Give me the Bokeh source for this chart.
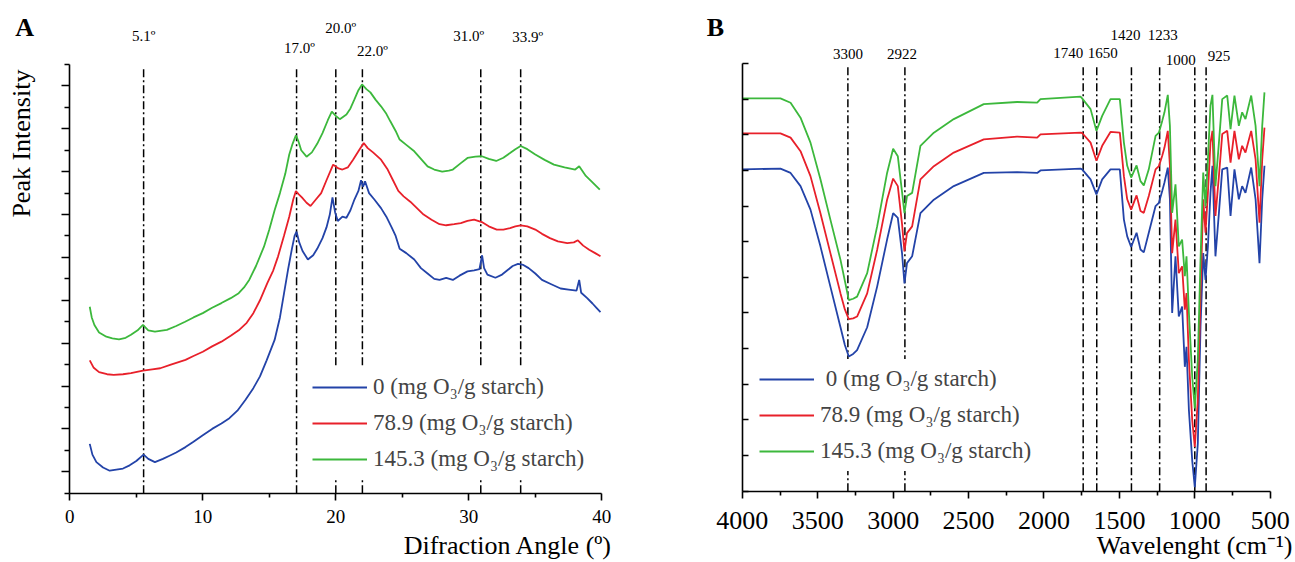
from bokeh.plotting import figure
from bokeh.models import Range1d, FixedTicker, Legend, LegendItem, Label
from bokeh.layouts import row
from bokeh.embed import file_html
from bokeh.resources import INLINE

# ---------------- data : panel A (XRD) ----------------
xrd_labels = ["0 (mg O\u2083/g starch)", "78.9 (mg O\u2083/g starch)", "145.3 (mg O\u2083/g starch)"]

xrd_blue_x = [1.5, 1.7, 2.0, 2.5, 3.0, 3.5, 4.0, 4.5, 5.0, 5.55, 5.9, 6.4, 7.0, 7.5, 8.0, 8.7, 9.3, 10.0,
              10.7, 11.4, 12.0, 12.6, 13.2, 13.8, 14.3, 14.8, 15.4, 15.8, 16.1, 16.4, 16.7, 16.9, 17.05,
              17.25, 17.5, 17.9, 18.3, 18.6, 19.0, 19.3, 19.55, 19.75, 19.95, 20.15, 20.5, 20.8, 21.1,
              21.4, 21.7, 21.9, 22.05, 22.2, 22.5, 22.9, 23.4, 23.8, 24.2, 24.5, 24.8, 25.3, 25.9, 26.4,
              26.9, 27.4, 27.8, 28.3, 28.8, 29.3, 29.9, 30.4, 30.8, 31.0, 31.15, 31.4, 32.0, 32.5, 32.9,
              33.3, 33.7, 34.1, 34.5, 35.0, 35.5, 36.2, 36.9, 37.5, 38.1, 38.3, 38.45, 38.9, 39.3, 39.6, 39.9]
xrd_blue_y = [2.3, 1.8, 1.45, 1.2, 1.05, 1.1, 1.15, 1.3, 1.5, 1.8, 1.6, 1.45, 1.6, 1.75, 1.9, 2.15, 2.4, 2.7,
              3.0, 3.25, 3.5, 3.85, 4.35, 4.9, 5.45, 6.2, 7.15, 8.2, 9.3, 10.4, 11.4, 12.0, 12.2,
              11.7, 11.3, 10.9, 11.1, 11.4, 11.9, 12.4, 13.0, 13.8, 13.1, 12.7, 12.9, 12.85, 13.2,
              13.7, 14.1, 14.6, 14.3, 14.55, 14.0, 13.7, 13.3, 12.9, 12.4, 12.0, 11.4, 11.2, 10.9, 10.5,
              10.25, 10.0, 9.95, 10.05, 9.95, 10.15, 10.35, 10.4, 10.45, 11.1, 10.5, 10.2, 10.05, 10.2, 10.4,
              10.6, 10.7, 10.65, 10.5, 10.25, 9.95, 9.75, 9.55, 9.5, 9.45, 9.95, 9.35, 9.1, 8.85, 8.65, 8.45]

xrd_red_x = [1.5, 1.8, 2.2, 2.8, 3.3, 4.0, 4.6, 5.5, 6.2, 6.8, 7.6, 8.7, 9.3, 10.0, 10.7, 11.4, 12.1, 12.7,
             13.3, 13.8, 14.3, 14.85, 15.3, 15.66, 16.1, 16.5, 16.8, 17.0, 17.2, 17.45, 17.8, 18.1, 18.5,
             18.9, 19.3, 19.8, 20.2, 20.5, 20.9, 21.3, 21.7, 22.1, 22.4, 22.8, 23.4, 23.9, 24.3, 24.7,
             25.1, 25.6, 26.1, 26.6, 27.2, 27.8, 28.3, 28.9, 29.4, 29.9, 30.4, 30.98, 31.5, 32.1, 32.6,
             33.1, 33.5, 33.9, 34.4, 35.0, 35.5, 36.1, 36.7, 37.4, 37.9, 38.2, 38.6, 39.05, 39.5, 39.9]
xrd_red_y = [6.2, 5.85, 5.65, 5.55, 5.52, 5.55, 5.6, 5.72, 5.78, 5.83, 6.0, 6.22, 6.4, 6.6, 6.85, 7.07, 7.35, 7.6,
             7.95, 8.4, 9.0, 9.8, 10.4, 11.05, 12.0, 12.9, 13.7, 14.1, 13.95, 13.8, 13.55, 13.4, 13.7,
             14.0, 14.6, 15.33, 15.15, 15.1, 15.2, 15.56, 15.95, 16.34, 16.1, 15.9, 15.56, 15.1, 14.6, 14.1,
             13.85, 13.6, 13.3, 13.0, 12.76, 12.55, 12.5, 12.55, 12.6, 12.7, 12.76, 12.65, 12.45, 12.3, 12.3,
             12.37, 12.45, 12.5, 12.45, 12.3, 12.1, 11.9, 11.75, 11.67, 11.7, 11.8, 11.55, 11.36, 11.2, 11.05]

xrd_green_x = [1.5, 1.65, 1.85, 2.2, 2.75, 3.2, 3.7, 4.2, 4.6, 5.1, 5.5, 5.9, 6.4, 7.3, 8.0, 8.67, 9.3, 10.0,
               10.7, 11.4, 12.1, 12.7, 13.1, 13.5, 14.0, 14.6, 15.0, 15.4, 15.8, 16.2, 16.5, 16.75, 17.0,
               17.2, 17.4, 17.8, 18.2, 18.6, 19.0, 19.4, 19.7, 20.0, 20.3, 20.8, 21.1, 21.4, 21.7, 21.97,
               22.3, 22.6, 23.0, 23.4, 23.8, 24.1, 24.5, 24.8, 25.3, 25.9, 26.4, 26.9, 27.4, 28.0, 28.5,
               28.8, 29.4, 29.9, 30.5, 30.98, 31.5, 32.06, 32.6, 33.1, 33.5, 33.9, 34.4, 35.0, 35.7, 36.4,
               37.2, 38.0, 38.3, 38.8, 39.3, 39.85]
xrd_green_y = [8.7, 8.2, 7.85, 7.5, 7.3, 7.22, 7.18, 7.25, 7.39, 7.6, 7.85, 7.6, 7.54, 7.62, 7.8, 8.0, 8.2, 8.4,
               8.65, 8.87, 9.1, 9.33, 9.6, 9.96, 10.6, 11.5, 12.3, 13.2, 14.0, 14.9, 15.8, 16.3, 16.7,
               16.4, 16.0, 15.7, 15.9, 16.3, 16.8, 17.4, 17.8, 17.6, 17.45, 17.67, 17.95, 18.37, 18.8, 19.07,
               18.85, 18.7, 18.35, 18.05, 17.7, 17.35, 16.9, 16.5, 16.25, 15.95, 15.6, 15.25, 15.1, 15.0, 15.05,
               15.1, 15.4, 15.64, 15.7, 15.72, 15.6, 15.5, 15.65, 15.87, 16.05, 16.2, 16.05, 15.8, 15.55, 15.33,
               15.2, 15.1, 15.25, 14.8, 14.5, 14.16]

xrd_peak_pos = [5.55, 17.05, 20.0, 22.0, 30.9, 33.9]
xrd_peak_text = ["5.1\u00ba", "17.0\u00ba", "20.0\u00ba", "22.0\u00ba", "31.0\u00ba", "33.9\u00ba"]
xrd_x_ticks = [0, 10, 20, 30, 40]

# ---------------- data : panel B (FTIR) ----------------
ftir_labels = ["\u00a00 (mg O\u2083/g starch)", "78.9 (mg O\u2083/g starch)", "145.3 (mg O\u2083/g starch)"]

ftir_x_hi = [4000, 3747, 3680, 3614, 3548, 3482, 3416, 3349, 3320, 3294, 3265, 3239, 3172, 3106, 3040,
             3000, 2969, 2941, 2925, 2908, 2874, 2819, 2730, 2598, 2399, 2178, 2045, 2023, 1758]
ftir_x_lo = [1747, 1691, 1652, 1614, 1559, 1497, 1470, 1448, 1422, 1386, 1360, 1338, 1305, 1260, 1238,
             1216, 1201, 1179, 1165, 1150, 1128, 1106, 1084, 1066, 1055, 1039, 1017, 1000, 980, 962,
             944, 929, 913, 896, 883, 863, 840, 818, 785, 763, 737, 708, 686, 664, 626, 597, 571, 553, 538]

ftir_blue_hi = [9.03, 9.05, 8.93, 8.56, 7.9, 6.87, 5.74, 4.6, 4.1, 3.78, 3.85, 3.96, 4.6, 5.74, 7.06,
                7.8, 7.67, 6.68, 5.83, 6.4, 6.59, 7.8, 8.18, 8.56, 8.93, 8.95, 8.93, 9.0, 9.05]
ftir_blue_lo = [9.03, 8.75, 8.33, 8.75, 9.03, 9.03, 7.62, 7.15, 6.85, 7.25, 6.78, 6.7, 7.25, 8.0, 8.09,
                8.42, 8.66, 9.08, 8.19, 5.0, 6.59, 4.9, 5.18, 3.49, 4.05, 2.27, 0.86, 0.11, 1.33, 4.62,
                6.68, 5.93, 6.87, 8.37, 9.13, 6.59, 7.81, 9.03, 9.08, 7.72, 9.03, 8.19, 8.56, 8.37, 9.08,
                8.19, 6.4, 8.19, 9.13]

ftir_red_hi = [10.04, 10.04, 9.92, 9.54, 8.84, 7.8, 6.68, 5.55, 5.1, 4.83, 4.85, 4.9, 5.55, 6.77, 8.18,
               8.77, 8.56, 7.5, 6.73, 7.24, 7.43, 8.75, 9.12, 9.5, 9.87, 9.95, 9.92, 10.01, 10.06]
ftir_red_lo = [10.05, 9.78, 9.27, 9.69, 10.08, 10.06, 8.84, 8.19, 7.9, 8.3, 7.86, 7.81, 8.28, 9.03, 9.12,
               9.41, 9.64, 10.11, 9.13, 6.68, 7.62, 6.12, 6.31, 5.09, 5.56, 3.68, 1.99, 1.24, 2.55, 5.56,
               8.19, 7.25, 8.37, 9.78, 10.11, 7.72, 8.84, 10.02, 10.11, 9.22, 10.11, 9.31, 9.69, 9.5, 10.11,
               9.31, 7.53, 9.31, 10.2]

ftir_green_hi = [11.02, 11.02, 10.9, 10.48, 9.78, 8.75, 7.62, 6.49, 5.9, 5.36, 5.4, 5.46, 6.12, 7.43, 8.93,
                 9.61, 9.4, 8.4, 7.8, 8.28, 8.37, 9.69, 10.06, 10.44, 10.86, 10.92, 10.9, 11.0, 11.07]
ftir_green_lo = [11.02, 10.72, 10.11, 10.53, 11.0, 11.0, 9.78, 9.13, 8.8, 9.14, 8.7, 8.58, 9.03, 9.97, 10.06,
                 10.39, 10.63, 11.12, 10.25, 7.81, 8.61, 6.87, 7.06, 6.03, 6.59, 5.0, 3.21, 2.32, 3.68, 6.5,
                 8.94, 8.0, 9.31, 10.82, 11.12, 8.56, 9.78, 11.0, 11.1, 10.16, 11.1, 10.25, 10.63, 10.44, 11.1,
                 10.25, 8.56, 10.25, 11.19]

ftir_peak_pos = [3300, 2922, 1740, 1650, 1420, 1233, 1000, 925]
ftir_peak_text = ["3300", "2922", "1740", "1650", "1420", "1233", "1000", "925"]
ftir_x_ticks = [4000, 3500, 3000, 2500, 2000, 1500, 1000, 500]

# ---------------- styles ----------------
SERIF = "Liberation Serif"
BLUE, RED, GREEN = "#2343a8", "#e8202a", "#3cb83c"
COLORS = [BLUE, RED, GREEN]
DASH = "8 3 2 3"


def style_common(p):
    p.grid.visible = False
    p.outline_line_color = None
    p.background_fill_color = "white"
    p.border_fill_color = "white"
    for ax in p.axis:
        ax.axis_line_width = 1.6
        ax.axis_line_color = "black"
        ax.major_tick_line_width = 1.6
        ax.minor_tick_line_width = 1.6
        ax.major_tick_line_color = "black"
        ax.minor_tick_line_color = "black"
        ax.major_label_text_font = SERIF
        ax.major_label_text_color = "black"


def make_legend(p, renderers, labels, loc, font_size):
    items = [LegendItem(label=lab, renderers=[r]) for lab, r in zip(labels, renderers)]
    lg = Legend(items=items, location=loc, glyph_width=55, glyph_height=30, label_height=30,
                spacing=6, padding=5, margin=0, label_standoff=6,
                label_text_font=SERIF, label_text_font_size=font_size,
                border_line_alpha=0, background_fill_color="white", background_fill_alpha=1.0)
    p.add_layout(lg, "center")


def data_label(p, x, y, text, size, align="center", angle=0.0, bold=False, dx=0):
    p.add_layout(Label(x=x, y=y, x_offset=dx, text=text, angle=angle,
                       text_align=align, text_baseline="middle", text_font=SERIF,
                       text_font_size=size, text_font_style="bold" if bold else "normal",
                       text_color="black"))


# ---------------- panel A (frame fills the canvas, axes pinned at 0) ----------------
pA = figure(width=648, height=562, x_range=Range1d(-5.2105, 43.511), y_range=Range1d(-3.233, 22.986),
            output_backend="svg", toolbar_location=None,
            min_border_left=0, min_border_right=0, min_border_top=0, min_border_bottom=0)
style_common(pA)
pA.xaxis.fixed_location = 0
pA.xaxis.bounds = (0, 40)
pA.xaxis.ticker = FixedTicker(ticks=xrd_x_ticks, minor_ticks=[5, 15, 25, 35])
pA.xaxis.major_tick_out = 7
pA.xaxis.major_tick_in = 0
pA.xaxis.minor_tick_out = 4
pA.xaxis.minor_tick_in = 0
pA.xaxis.major_label_text_font_size = "19px"
pA.xaxis.major_label_standoff = 10
a_yticks = list(range(1, 20, 2))
pA.yaxis.fixed_location = 0
pA.yaxis.bounds = (0, 20)
pA.yaxis.ticker = FixedTicker(ticks=a_yticks, minor_ticks=list(range(0, 21, 2)))
pA.yaxis.major_tick_out = 8
pA.yaxis.major_tick_in = 0
pA.yaxis.minor_tick_out = 5
pA.yaxis.minor_tick_in = 0
pA.yaxis.major_label_overrides = {t: "" for t in a_yticks}

pA.segment(x0=xrd_peak_pos, y0=[0] * len(xrd_peak_pos), x1=xrd_peak_pos,
           y1=[19.8] * len(xrd_peak_pos), line_color="black", line_width=1.5, line_dash=DASH)

rA = []
for xs, ys, c in zip([xrd_blue_x, xrd_red_x, xrd_green_x], [xrd_blue_y, xrd_red_y, xrd_green_y], COLORS):
    rA.append(pA.line(xs, ys, line_color=c, line_width=1.8))
make_legend(pA, rA, xrd_labels, (307, 83), "23px")

xrd_label_dx = [0, 3, 5, 10, -12, 7]
xrd_label_y = [21.31, 20.75, 21.72, 20.65, 21.31, 21.26]
for pos, txt, dx, yy in zip(xrd_peak_pos, xrd_peak_text, xrd_label_dx, xrd_label_y):
    data_label(pA, pos, yy, txt, "15px", dx=dx)

data_label(pA, -3.63, 16.31, "Peak Intensity", "26px", angle=1.5708)
data_label(pA, 40.8, -2.44, "Difraction Angle (\u00ba)", "26px", align="right")
data_label(pA, -3.40, 21.73, "A", "26px", bold=True)

# ---------------- panel B ----------------
pB = figure(width=647, height=562, x_range=Range1d(4621.9, 332.3), y_range=Range1d(-2.0005, 13.7676),
            output_backend="svg", toolbar_location=None,
            min_border_left=0, min_border_right=0, min_border_top=0, min_border_bottom=0)
style_common(pB)
pB.xaxis.fixed_location = 0
pB.xaxis.bounds = (500, 4000)
pB.xaxis.ticker = FixedTicker(ticks=ftir_x_ticks, minor_ticks=[3750, 3250, 2750, 2250, 1750, 1250, 750])
pB.xaxis.major_tick_out = 7
pB.xaxis.major_tick_in = 0
pB.xaxis.minor_tick_out = 4
pB.xaxis.minor_tick_in = 0
pB.xaxis.major_label_text_font_size = "26px"
pB.xaxis.major_label_standoff = 14
b_yticks = list(range(0, 13))
pB.yaxis.fixed_location = 4000
pB.yaxis.bounds = (0, 12)
pB.yaxis.ticker = FixedTicker(ticks=b_yticks, minor_ticks=[])
pB.yaxis.major_tick_out = 0
pB.yaxis.major_tick_in = 6
pB.yaxis.minor_tick_out = 0
pB.yaxis.minor_tick_in = 0
pB.yaxis.major_label_overrides = {t: "" for t in b_yticks}

pB.segment(x0=ftir_peak_pos, y0=[0] * len(ftir_peak_pos), x1=ftir_peak_pos,
           y1=[11.9] * len(ftir_peak_pos), line_color="black", line_width=1.5, line_dash=DASH)

ftir_x = ftir_x_hi + ftir_x_lo
rB = []
for yh, yl, c in zip([ftir_blue_hi, ftir_red_hi, ftir_green_hi],
                     [ftir_blue_lo, ftir_red_lo, ftir_green_lo], COLORS):
    rB.append(pB.line(ftir_x, yh + yl, line_color=c, line_width=1.8))
make_legend(pB, rB, ftir_labels, (106, 91), "23px")

ftir_label_dx = [0, -3, -15, 6, -6, 3, -14, 13]
ftir_label_y = [12.28, 12.28, 12.29, 12.29, 12.81, 12.81, 12.11, 12.22]
for pos, txt, dx, yy in zip(ftir_peak_pos, ftir_peak_text, ftir_label_dx, ftir_label_y):
    data_label(pB, pos, yy, txt, "15px", dx=dx)

data_label(pB, 352, -1.52, "Wavelenght (cm\u207b\u00b9)", "26px", align="right")
data_label(pB, 4177.7, 13.01, "B", "26px", bold=True)

layout = row(pA, pB)
open("out.html", "w").write(file_html(layout, INLINE))
